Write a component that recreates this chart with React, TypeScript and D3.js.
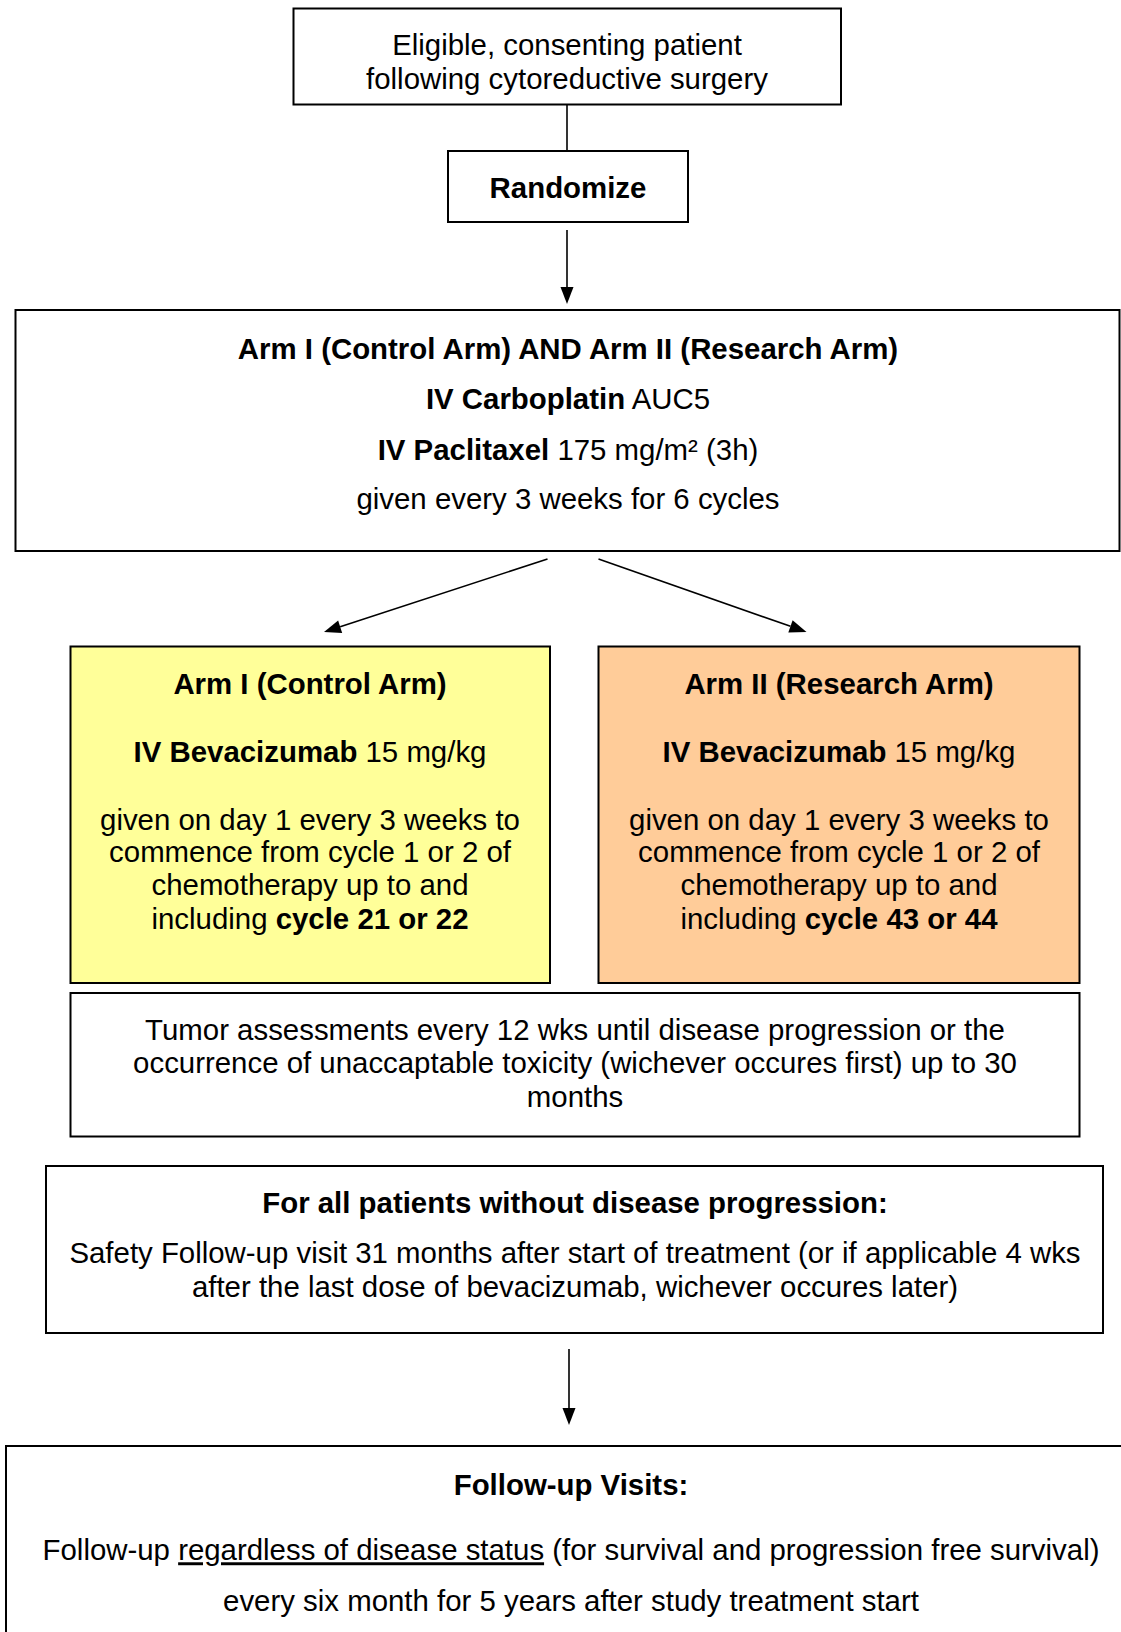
import * as d3 from 'd3'

type Seg = { t: string; b?: boolean; u?: boolean }

// box texts, one array of segments per line
const entryLines: Seg[][] = [
  [{ t: 'Eligible, consenting patient' }],
  [{ t: 'following cytoreductive surgery' }],
]
const randomLines: Seg[][] = [[{ t: 'Randomize', b: true }]]
const chemoLines: Seg[][] = [
  [{ t: 'Arm I (Control Arm) AND Arm II (Research Arm)', b: true }],
  [{ t: 'IV Carboplatin', b: true }, { t: ' AUC5' }],
  [{ t: 'IV Paclitaxel', b: true }, { t: ' 175 mg/m² (3h)' }],
  [{ t: 'given every 3 weeks for 6 cycles' }],
]
const controlLines: Seg[][] = [
  [{ t: 'Arm I (Control Arm)', b: true }],
  [{ t: 'IV Bevacizumab', b: true }, { t: ' 15 mg/kg' }],
  [{ t: 'given on day 1 every 3 weeks to' }],
  [{ t: 'commence from cycle 1 or 2 of' }],
  [{ t: 'chemotherapy up to and' }],
  [{ t: 'including ' }, { t: 'cycle 21 or 22', b: true }],
]
const researchLines: Seg[][] = [
  [{ t: 'Arm II (Research Arm)', b: true }],
  [{ t: 'IV Bevacizumab', b: true }, { t: ' 15 mg/kg' }],
  [{ t: 'given on day 1 every 3 weeks to' }],
  [{ t: 'commence from cycle 1 or 2 of' }],
  [{ t: 'chemotherapy up to and' }],
  [{ t: 'including ' }, { t: 'cycle 43 or 44', b: true }],
]
const tumorLines: Seg[][] = [
  [{ t: 'Tumor assessments every 12 wks until disease progression or the' }],
  [{ t: 'occurrence of unaccaptable toxicity (wichever occures first) up to 30' }],
  [{ t: 'months' }],
]
const safetyLines: Seg[][] = [
  [{ t: 'For all patients without disease progression:', b: true }],
  [{ t: 'Safety Follow-up visit 31 months after start of treatment (or if applicable 4 wks' }],
  [{ t: 'after the last dose of bevacizumab, wichever occures later)' }],
]
const followLines: Seg[][] = [
  [{ t: 'Follow-up Visits:', b: true }],
  [{ t: 'Follow-up ' }, { t: 'regardless of disease status', u: true }, { t: ' (for survival and progression free survival)' }],
  [{ t: 'every six month for 5 years after study treatment start' }],
]

// layout, in page pixels
const boxes = [
  { x0: 293.5, x1: 841, y0: 8.5, y1: 104.5, fill: '#ffffff', cx: 567, ys: [45, 79], lines: entryLines },
  { x0: 448, x1: 688, y0: 151, y1: 222, fill: '#ffffff', cx: 568, ys: [188], lines: randomLines },
  { x0: 15.5, x1: 1119.5, y0: 310, y1: 551, fill: '#ffffff', cx: 568, ys: [349, 399, 450, 499], lines: chemoLines },
  { x0: 70.5, x1: 550, y0: 646.5, y1: 983, fill: '#ffff99', cx: 310, ys: [684, 752, 819.5, 852, 885, 919], lines: controlLines },
  { x0: 598.5, x1: 1079.5, y0: 646.5, y1: 983, fill: '#ffcc99', cx: 839, ys: [684, 752, 819.5, 852, 885, 919], lines: researchLines },
  { x0: 70.5, x1: 1079.5, y0: 993, y1: 1136.5, fill: '#ffffff', cx: 575, ys: [1030, 1063, 1096.5], lines: tumorLines },
  { x0: 46, x1: 1103, y0: 1166, y1: 1333, fill: '#ffffff', cx: 575, ys: [1203, 1253, 1287], lines: safetyLines },
  { x0: 6, x1: 1140, y0: 1446, y1: 1700, fill: '#ffffff', cx: 571, ys: [1485, 1550, 1601], lines: followLines },
]

const arrows = [
  { from: [567, 104.5], to: [567, 151], head: false },
  { from: [567, 230], to: [567, 304], head: true },
  { from: [547.5, 559], to: [324, 632], head: true },
  { from: [598.5, 559], to: [806.5, 632], head: true },
  { from: [569, 1349], to: [569, 1425], head: true },
]

const fontSize = 29.4
const headLen = 17
const headHalf = 6.5

function Arrow({ a }) {
  const [x1, y1] = a.from
  const [x2, y2] = a.to
  const ang = Math.atan2(y2 - y1, x2 - x1)
  const bx = x2 - headLen * Math.cos(ang)
  const by = y2 - headLen * Math.sin(ang)
  const line = d3.line()
  const shaft = line(a.head ? [[x1, y1], [bx, by]] : [[x1, y1], [x2, y2]])
  const nx = -Math.sin(ang) * headHalf
  const ny = Math.cos(ang) * headHalf
  const head = line([[x2, y2], [bx + nx, by + ny], [bx - nx, by - ny]]) + 'Z'
  return (
    <g>
      <path d={shaft} stroke="#000" strokeWidth={1.6} fill="none" />
      {a.head && <path d={head} fill="#000" />}
    </g>
  )
}

export default function App() {
  return (
    <svg
      width={1121}
      height={1632}
      style={{ position: 'absolute', left: 0, top: 0, background: '#fff' }}
      fontFamily="'Liberation Sans', Arial, sans-serif"
      fontSize={fontSize}
    >
      <rect x={0} y={0} width={1121} height={1632} fill="#fff" />
      {boxes.map((bx, i) => (
        <g key={i}>
          <rect x={bx.x0} y={bx.y0} width={bx.x1 - bx.x0} height={bx.y1 - bx.y0} fill={bx.fill} stroke="#000" strokeWidth={2} />
          {bx.lines.map((ln, j) => (
            <text key={j} x={bx.cx} y={bx.ys[j]} dy="0.35em" textAnchor="middle" fill="#000">
              {ln.map((s, k) => (
                <tspan key={k} fontWeight={s.b ? 'bold' : 'normal'} style={s.u ? { textDecoration: 'underline' } : undefined}>
                  {s.t}
                </tspan>
              ))}
            </text>
          ))}
        </g>
      ))}
      {arrows.map((a, i) => (
        <Arrow key={i} a={a} />
      ))}
    </svg>
  )
}
